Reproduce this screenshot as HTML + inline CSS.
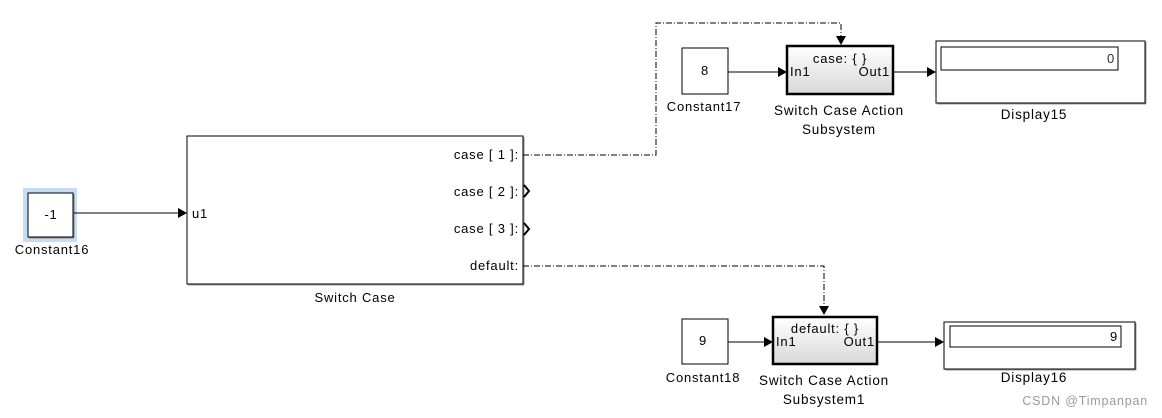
<!DOCTYPE html>
<html><head><meta charset="utf-8"><style>
html,body{margin:0;padding:0;background:#fff;}
svg{display:block;font-family:"Liberation Sans",Arial,sans-serif;}
text{letter-spacing:0.8px;}
</style></head><body>
<svg width="1162" height="418" viewBox="0 0 1162 418" xmlns="http://www.w3.org/2000/svg">
<defs>
<linearGradient id="g" x1="0" y1="0" x2="0" y2="1"><stop offset="0" stop-color="#ffffff"/><stop offset="1" stop-color="#d8d8d8"/></linearGradient>
</defs>
<!-- Constant16 -->
<rect x="23" y="188" width="54" height="54" fill="#c5dcf5"/>
<rect x="28" y="193" width="45" height="44" fill="#fff" stroke="#000" stroke-width="1"/>
<line x1="29" y1="238" x2="74" y2="238" stroke="#888"/><line x1="74" y1="194" x2="74" y2="238" stroke="#888"/>
<text x="51" y="219" font-size="13" text-anchor="middle">-1</text>
<text x="52" y="254" font-size="13" text-anchor="middle">Constant16</text>
<line x1="74" y1="213" x2="178" y2="213" stroke="#000"/>
<polygon points="178,208 187,213 178,218" fill="#000"/>
<!-- Switch Case -->
<rect x="187" y="136" width="336" height="148" fill="#fff" stroke="#000"/>
<line x1="188" y1="285" x2="524" y2="285" stroke="#999"/><line x1="524" y1="137" x2="524" y2="285" stroke="#999"/>
<text x="192" y="218" font-size="13">u1</text>
<g font-size="13" text-anchor="end">
<text x="519" y="159">case [ 1 ]:</text>
<text x="519" y="196">case [ 2 ]:</text>
<text x="519" y="233">case [ 3 ]:</text>
<text x="519" y="270">default:</text>
</g>
<polyline points="524,185 529,191 524,197" fill="none" stroke="#000" stroke-width="2"/>
<polyline points="524,223 529,229 524,235" fill="none" stroke="#000" stroke-width="2"/>
<text x="355" y="302" font-size="13" text-anchor="middle">Switch Case</text>
<!-- dashed lines -->
<polyline points="523,155 656,155 656,23 841,23 841,37" fill="none" stroke="#000" stroke-dasharray="6,2,1,2"/>
<polygon points="836,36 846,36 841,45" fill="#000"/>
<polyline points="523,266 824,266 824,307" fill="none" stroke="#000" stroke-dasharray="6,2,1,2"/>
<polygon points="819,306 829,306 824,315" fill="#000"/>
<!-- Top row -->
<rect x="682" y="48" width="46" height="46" fill="#fff" stroke="#000"/>
<text x="705" y="75" font-size="13" text-anchor="middle">8</text>
<text x="704" y="111" font-size="13" text-anchor="middle">Constant17</text>
<line x1="728" y1="72" x2="778" y2="72" stroke="#000"/>
<polygon points="778,67 787,72 778,77" fill="#000"/>
<rect x="787" y="46" width="106" height="48" fill="url(#g)" stroke="#000" stroke-width="2.5"/>
<text x="840" y="63" font-size="13" text-anchor="middle">case: { }</text>
<text x="790" y="76" font-size="13">In1</text>
<text x="890" y="76" font-size="13" text-anchor="end">Out1</text>
<text x="839" y="115" font-size="13.5" text-anchor="middle">Switch Case Action</text>
<text x="839" y="134" font-size="13.5" text-anchor="middle">Subsystem</text>
<line x1="893" y1="72" x2="927" y2="72" stroke="#000"/>
<polygon points="927,67 936,72 927,77" fill="#000"/>
<rect x="936" y="41" width="209" height="62" fill="#fff" stroke="#000"/>
<line x1="937" y1="104" x2="1146" y2="104" stroke="#999"/><line x1="1146" y1="42" x2="1146" y2="104" stroke="#999"/>
<rect x="941" y="47" width="177" height="23" fill="#fff" stroke="#000"/>
<text x="1115" y="63" font-size="13" text-anchor="end" fill="#333">0</text>
<text x="1034" y="119" font-size="13.5" text-anchor="middle">Display15</text>
<!-- Bottom row -->
<rect x="682" y="319" width="46" height="45" fill="#fff" stroke="#000"/>
<text x="703" y="345" font-size="13" text-anchor="middle">9</text>
<text x="703" y="382" font-size="13" text-anchor="middle">Constant18</text>
<line x1="728" y1="342" x2="764" y2="342" stroke="#000"/>
<polygon points="764,337 773,342 764,347" fill="#000"/>
<rect x="773" y="317" width="104" height="47" fill="url(#g)" stroke="#000" stroke-width="2.5"/>
<text x="825" y="333" font-size="13" text-anchor="middle">default: { }</text>
<text x="776" y="346" font-size="13">In1</text>
<text x="875" y="346" font-size="13" text-anchor="end">Out1</text>
<text x="824" y="385" font-size="13.5" text-anchor="middle">Switch Case Action</text>
<text x="824" y="404" font-size="13.5" text-anchor="middle">Subsystem1</text>
<line x1="877" y1="342" x2="935" y2="342" stroke="#000"/>
<polygon points="935,337 944,342 935,347" fill="#000"/>
<rect x="944" y="322" width="191" height="47" fill="#fff" stroke="#000"/>
<line x1="945" y1="370" x2="1136" y2="370" stroke="#999"/><line x1="1136" y1="323" x2="1136" y2="370" stroke="#999"/>
<rect x="950" y="326" width="171" height="21" fill="#fff" stroke="#000"/>
<text x="1118" y="341" font-size="13" text-anchor="end">9</text>
<text x="1034" y="382" font-size="13.5" text-anchor="middle">Display16</text>
<text x="1148" y="405" font-size="12.5" text-anchor="end" fill="#999">CSDN @Timpanpan</text>
</svg>
</body></html>
